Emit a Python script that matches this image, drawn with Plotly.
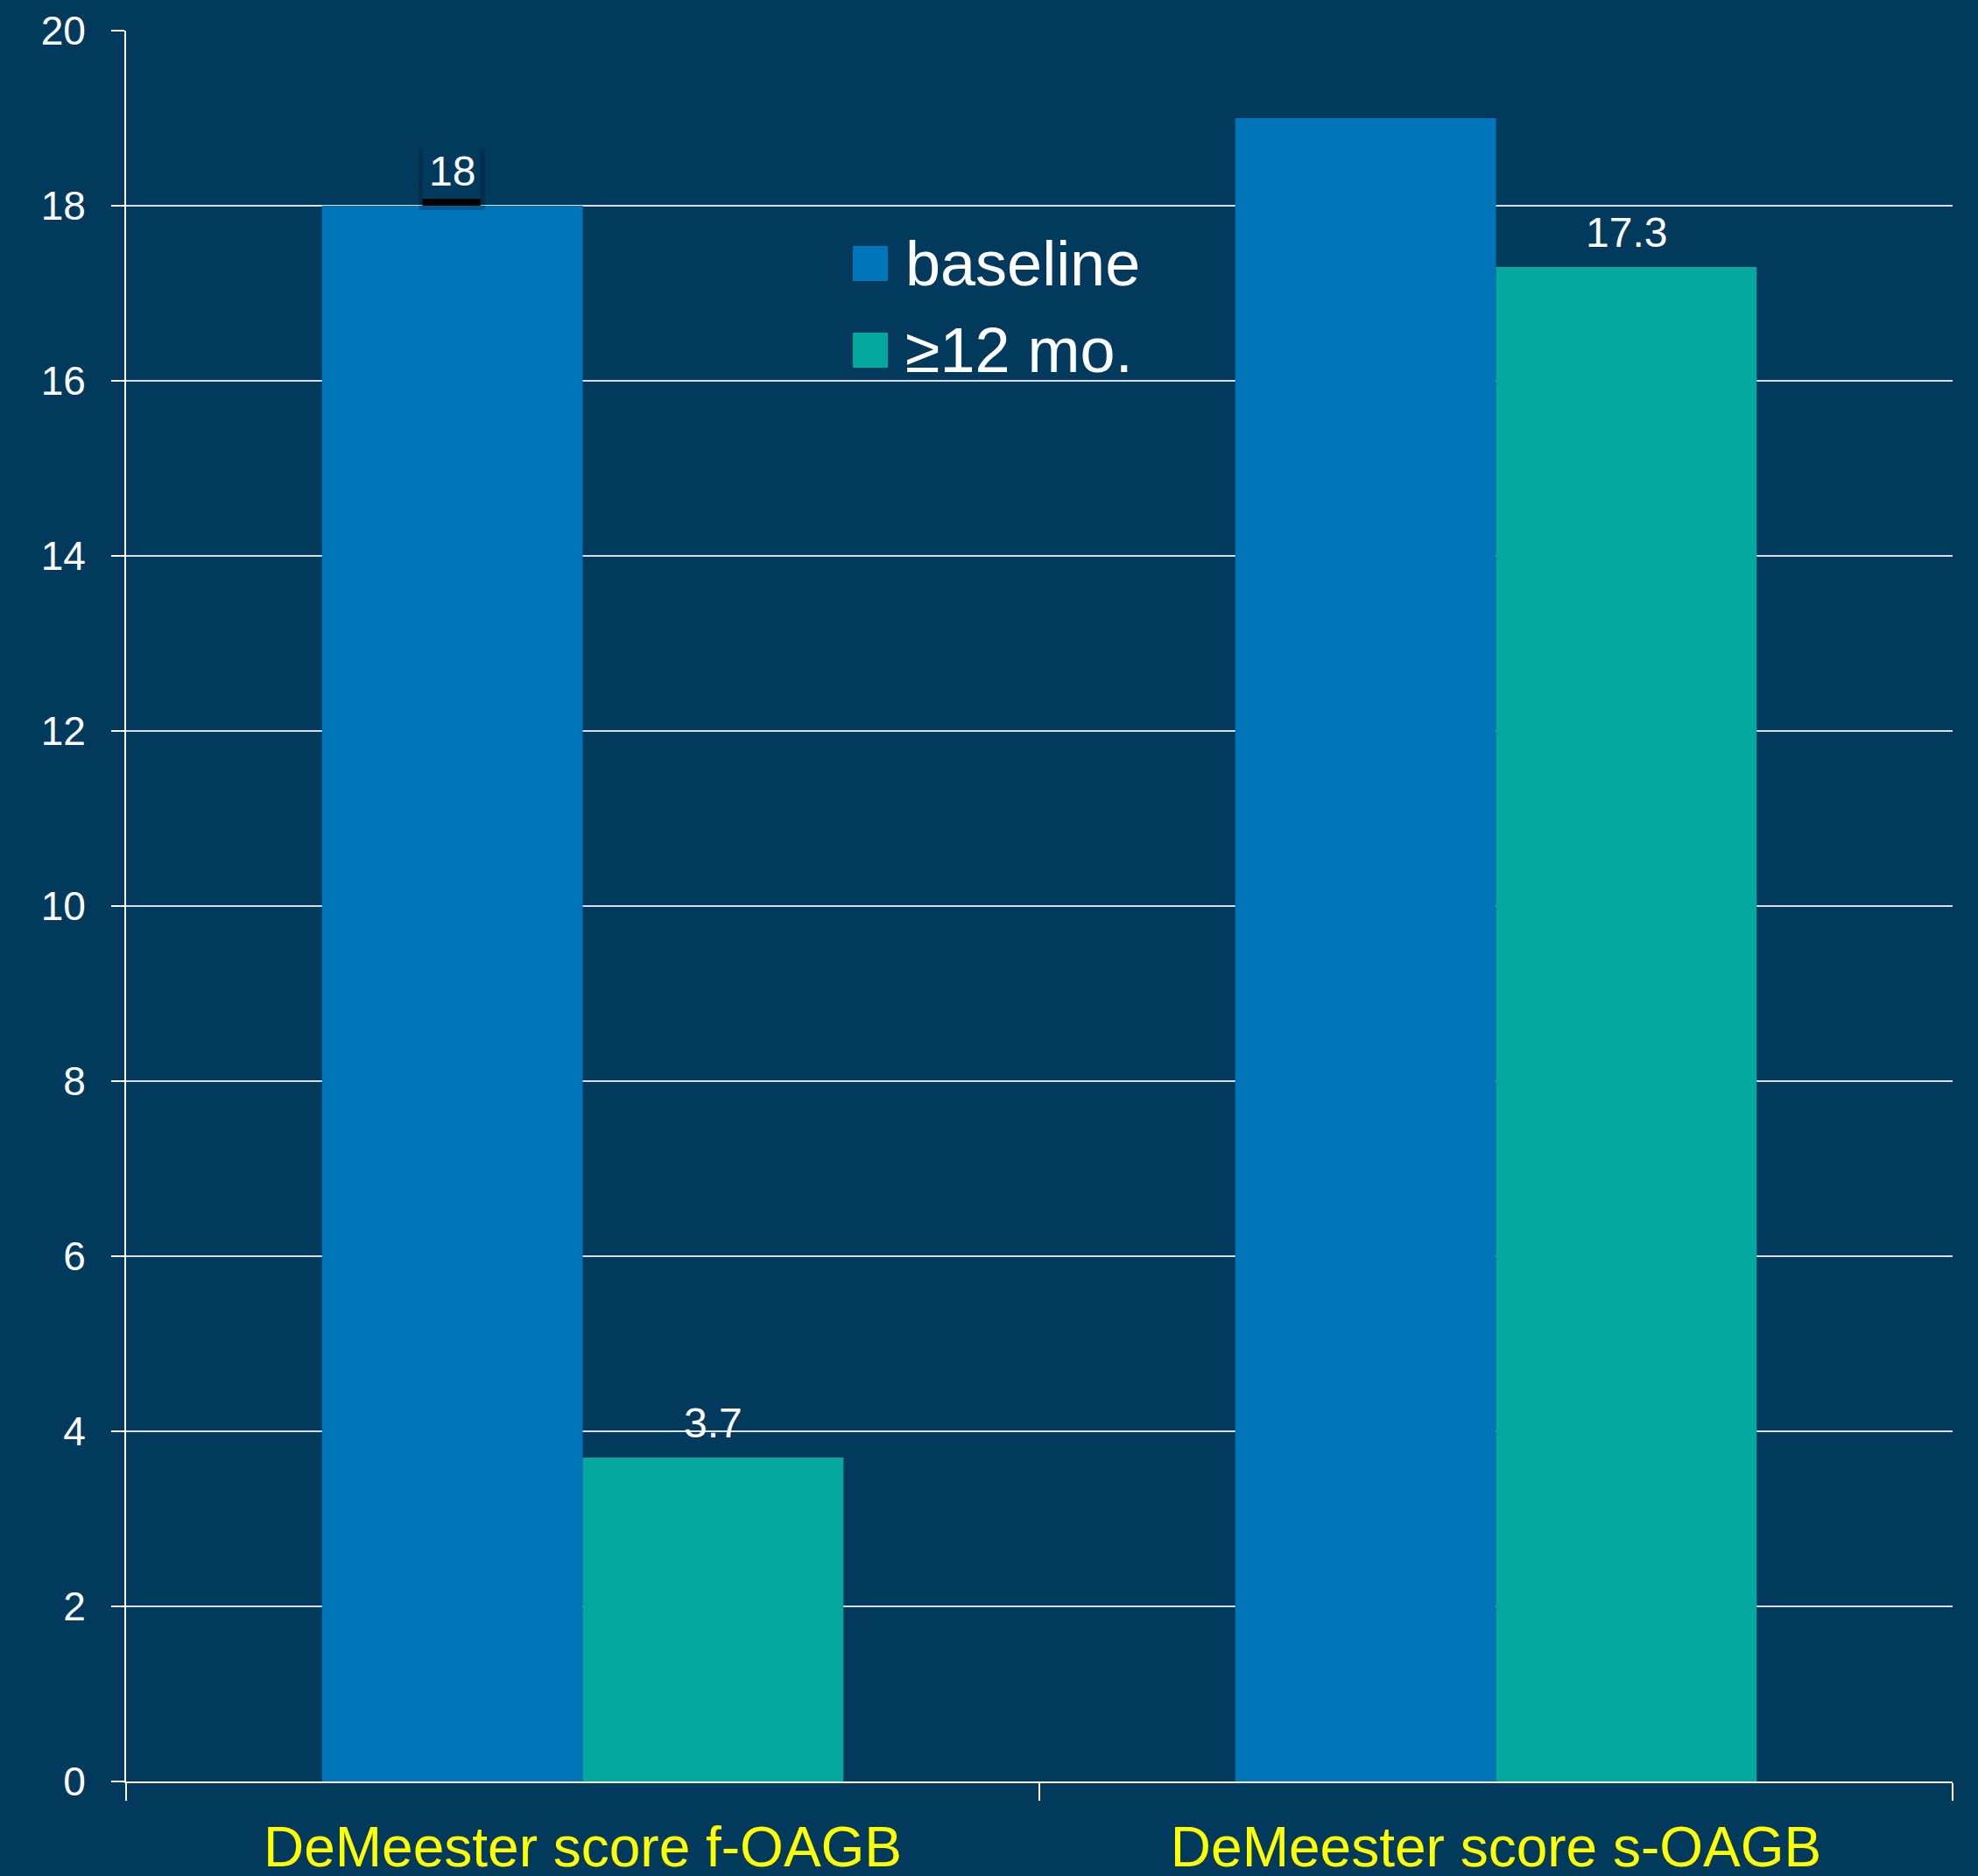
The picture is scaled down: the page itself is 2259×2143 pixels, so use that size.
import plotly.graph_objects as go

# Data
categories = ["DeMeester score f-OAGB", "DeMeester score s-OAGB"]
series_names = ["baseline", "≥12 mo."]
baseline_vals = [18, 19]
followup_vals = [3.7, 17.3]
label_baseline = ["18", None]
label_followup = ["3.7", "17.3"]
y_ticks = [0, 2, 4, 6, 8, 10, 12, 14, 16, 18, 20]

# Style
BG = "#023A5D"
BLUE = "#0075B9"
TEAL = "#04A89F"
GRID = "#D9E0E7"
FONT = "Liberation Sans, Arial, Helvetica, sans-serif"
BARGAP = 0.429
W, H = 2259, 2143
M = dict(l=144, r=29, t=35, b=108)

fig = go.Figure()
fig.add_trace(go.Bar(x=categories, y=baseline_vals, name=series_names[0],
                     marker=dict(color=BLUE, line=dict(width=0)), showlegend=False))
fig.add_trace(go.Bar(x=categories, y=followup_vals, name=series_names[1],
                     marker=dict(color=TEAL, line=dict(width=0)), showlegend=False))

# value labels above bars
half = (1 - BARGAP) / 4
annotations = []
for i, (lb, lf) in enumerate(zip(label_baseline, label_followup)):
    if lb is not None:
        annotations.append(dict(x=i - half, y=baseline_vals[i], xref="x", yref="y",
                                text=lb, showarrow=False, yanchor="bottom", yshift=11,
                                font=dict(family=FONT, size=48, color="white")))
    if lf is not None:
        annotations.append(dict(x=i + half, y=followup_vals[i], xref="x", yref="y",
                                text=lf, showarrow=False, yanchor="bottom", yshift=11,
                                font=dict(family=FONT, size=48, color="white")))

# label box with drop shadow under the "18"
c = 0 - half
v = baseline_vals[0]
shapes = [
    dict(type="rect", xref="x", yref="y", x0=c - 0.0364, x1=c + 0.0355, y0=v - 0.05, y1=v + 0.65,
         fillcolor="rgba(0,0,0,0.2)", line=dict(width=0), layer="above"),
    dict(type="rect", xref="x", yref="y", x0=c - 0.0326, x1=c + 0.0307, y0=v + 0.08, y1=v + 0.68,
         fillcolor=BG, line=dict(width=0), layer="above"),
    dict(type="rect", xref="x", yref="y", x0=c - 0.0326, x1=c + 0.0307, y0=v, y1=v + 0.08,
         fillcolor="black", line=dict(width=0), layer="above"),
]

# legend drawn as squares + labels
leg_x0, leg_x1, leg_tx = 0.3979, 0.4171, 0.4257
leg_rows = [(0.857, 0.877, BLUE), (0.8075, 0.8275, TEAL)]
for (y0, y1, col), name in zip(leg_rows, series_names):
    shapes.append(dict(type="rect", xref="paper", yref="paper", x0=leg_x0, x1=leg_x1,
                       y0=y0, y1=y1, fillcolor=col, line=dict(width=0), layer="above"))
    annotations.append(dict(x=leg_tx, y=(y0 + y1) / 2, xref="paper", yref="paper",
                            text=name, showarrow=False, xanchor="left", yanchor="middle",
                            font=dict(family=FONT, size=72, color="white")))

fig.update_layout(
    width=W, height=H, margin=M,
    paper_bgcolor=BG, plot_bgcolor=BG,
    barmode="group", bargap=BARGAP, bargroupgap=0,
    font=dict(family=FONT, color="white"),
    annotations=annotations, shapes=shapes,
    showlegend=False,
)
fig.update_xaxes(
    type="category", tickson="boundaries", ticks="outside", ticklen=20, tickwidth=2,
    tickcolor="white", showline=True, linecolor="white", linewidth=2,
    showgrid=False, tickfont=dict(family=FONT, size=64, color="#FFFF00"),
    ticklabelstandoff=18, automargin=False,
)
fig.update_yaxes(
    range=[0, 20], tickvals=y_ticks, ticks="outside", ticklen=15, tickwidth=2,
    tickcolor="white", showline=True, linecolor="white", linewidth=2,
    showgrid=True, gridcolor=GRID, gridwidth=2, zeroline=False,
    tickfont=dict(family=FONT, size=46, color="white"), ticklabelstandoff=20,
    automargin=False,
)

fig.write_html("out.html")
